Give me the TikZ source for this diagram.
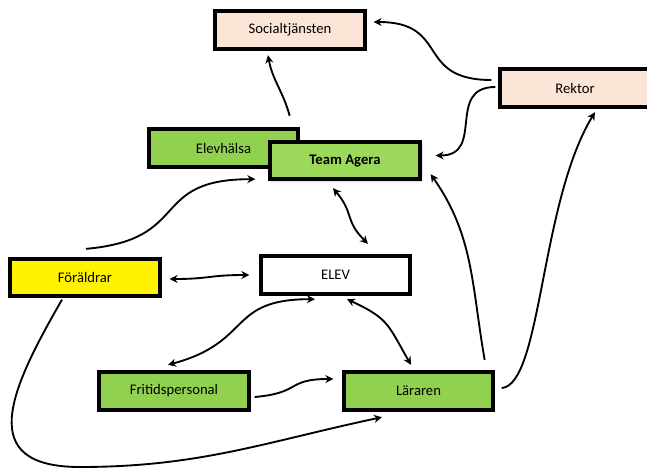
\documentclass[tikz,border=0pt]{standalone}
\usepackage{fontspec}
\setmainfont{Carlito}
\usetikzlibrary{arrows.meta, positioning, shadows.blur}
\definecolor{peach}{HTML}{FBE5D6}
\definecolor{grn}{HTML}{92D050}
\definecolor{grnlight}{HTML}{9CD95B}

\begin{document}
\begin{tikzpicture}[
        x=0.75pt, y=0.75pt, >={Stealth[length=6pt,width=6pt]},
        box/.style={draw, line width=3pt, minimum width=112pt, minimum height=28pt,
          inner sep=0pt, font=\fontsize{11}{13}\selectfont},
        link/.style={line width=1.4pt},
        ]
        \useasboundingbox (0,0) rectangle (647,-468);
        \node[box, fill=peach]  (soc)       at (290,-30)    {Socialtjänsten};
        \node[box, fill=peach]  (rektor)    at (575,-88)    {Rektor};
        \node[box, fill=grn]    (elevhalsa) at (223.5,-148) {Elevhälsa};
        \node[box, fill=grnlight, font=\fontsize{11}{13}\selectfont\bfseries,
          blur shadow={shadow xshift=1pt, shadow yshift=-1pt, shadow blur steps=6}]
                                (team)      at (345,-160.5) {Team Agera};
        \node[box, fill=yellow] (foraldrar) at (85,-277.5)  {Föräldrar};
        \node[box, fill=white]  (elev)      at (335.5,-275) {ELEV};
        \node[box, fill=grn]    (fritid)    at (174,-391)   {Fritidspersonal};
        \node[box, fill=grn]    (lararen)   at (418.5,-391) {Läraren};
        \coordinate (bottom) at (80,-467);

        \path[->, link]
        ([shift={(-7,8)}]rektor.west) edge [out=180, in=0, looseness=1.5] ([shift={(7,8)}]soc.east)
        ([shift={(-3,1)}]rektor.west) edge [out=180, in=0, looseness=1.4] ([shift={(14,5)}]team.east)
        ([shift={(-10.5,11.5)}]elevhalsa.north east) edge [out=105, in=-80] ([shift={(-22,-4.5)}]soc.south)
        ([shift={(1,8)}]foraldrar.north) edge [out=5, in=180, looseness=1.5] ([shift={(-13,2)}]team.south west)
        ([shift={(4,-6)}]fritid.east) edge [out=5, in=180, looseness=1.5] ([shift={(-8.5,12)}]lararen.west)
        ([shift={(-10.5,10.5)}]lararen.north east) edge [out=100, in=-55] ([shift={(9,7)}]team.south east);

        \path[<->, link]
        ([shift={(-12,-7)}]team.south) edge [out=-50, in=135, looseness=1.3] ([shift={(32.5,10.5)}]elev.north)
        ([shift={(8,-1.5)}]foraldrar.east) edge [out=0, in=180, looseness=1.3] ([shift={(-9.5,0)}]elev.west)
        ([shift={(-6,5.5)}]fritid.north) edge [out=15, in=180, looseness=1.4] ([shift={(-20.5,-3.5)}]elev.south)
        ([shift={(11.5,-3.5)}]elev.south) edge [out=-25, in=120, looseness=1.3] ([shift={(-7.5,5.5)}]lararen.north);

        \draw[->, link] ([shift={(-23,-1.5)}]foraldrar.south) to [out=240, in=180, looseness=1.6] (bottom)
          to [out=0, in=192] ([shift={(-36.5,-5.5)}]lararen.south);
        \draw[->, link] ([shift={(6.5,3)}]lararen.east) .. controls +(40,3) and +(-55,-90)
          .. ([shift={(20,-3.5)}]rektor.south);
      \end{tikzpicture}
\end{document}
